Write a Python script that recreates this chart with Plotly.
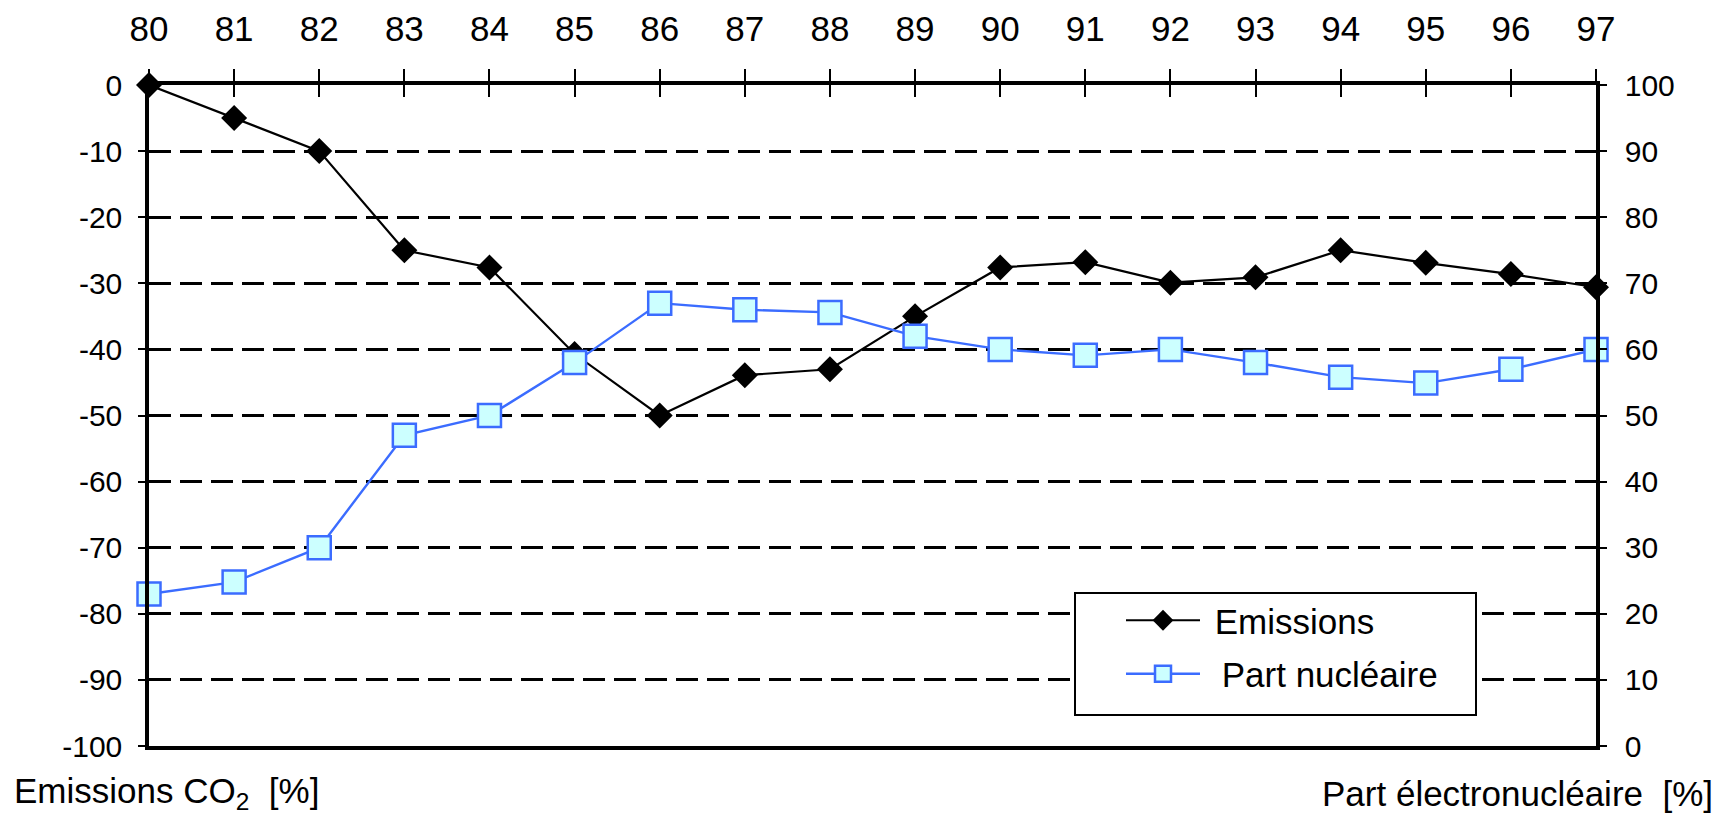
import plotly.graph_objects as go

# Years (19xx) on the top axis
years = [80, 81, 82, 83, 84, 85, 86, 87, 88, 89, 90, 91, 92, 93, 94, 95, 96, 97]

# CO2 emissions change relative to 1980, in % (left axis)
emissions = [0, -5, -10, -25, -27.6, -40.7, -50, -43.9, -43, -35, -27.6, -26.8,
             -29.9, -29.1, -25, -26.9, -28.6, -30.6]

# Share of nuclear power in electricity production, in % (right axis)
part_nucleaire = [23, 24.8, 30, 47, 50, 58, 67, 66, 65.6, 62, 60, 59.1,
                  60, 58, 55.8, 54.9, 57, 60]

left_ticks = list(range(-100, 1, 10))
left_text = [str(v) for v in left_ticks]          # plain hyphen for negatives
right_ticks = list(range(0, 101, 10))

FONT = "Liberation Sans, Arial, sans-serif"
W, H = 1719, 815
L, R, T, B = 149, 123, 85, 69
PW, PH = W - L - R, H - T - B


def px(x):
    return (x - L) / PW


def py(y):
    return (H - B - y) / PH


fig = go.Figure()

fig.add_trace(go.Scatter(
    x=years, y=emissions, name=" Emissions", mode="lines+markers",
    line=dict(color="black", width=2.2),
    marker=dict(symbol="diamond", size=20, color="black",
                line=dict(color="black", width=0)),
    cliponaxis=False, legendgroup="a", yaxis="y",
))

fig.add_trace(go.Scatter(
    x=years, y=part_nucleaire, name=" \u2009Part nucléaire", mode="lines+markers",
    line=dict(color="#3b6cff", width=2.4),
    marker=dict(symbol="square", size=23, color="#ccffff",
                line=dict(color="#3b6cff", width=2.5)),
    cliponaxis=False, legendgroup="b", yaxis="y2",
))

# empty trace that carries the inward tick marks of the top axis
fig.add_trace(go.Scatter(x=[], y=[], xaxis="x3", yaxis="y", showlegend=False,
                         hoverinfo="skip"))

fig.update_layout(
    width=W, height=H,
    margin=dict(l=L, r=R, t=T, b=B, autoexpand=False),
    paper_bgcolor="white", plot_bgcolor="white",
    font=dict(family=FONT, size=30, color="black"),
    showlegend=True,
    xaxis=dict(
        range=[80, 97], side="top", tickmode="array", tickvals=years,
        ticktext=[str(v) for v in years], automargin=False,
        showline=True, linecolor="black", linewidth=3.5, mirror=True,
        ticks="outside", ticklen=12, tickwidth=2, tickcolor="black",
        ticklabelstandoff=14,
        showgrid=False, zeroline=False,
        tickfont=dict(family=FONT, size=35),
    ),
    xaxis3=dict(
        range=[80, 97], side="top", overlaying="x", anchor="y",
        tickmode="array", tickvals=years, automargin=False,
        ticks="inside", ticklen=12, tickwidth=2, tickcolor="black",
        showticklabels=False, showline=False, showgrid=False, zeroline=False,
    ),
    yaxis=dict(
        range=[-100, 0], tickmode="array", tickvals=left_ticks,
        ticktext=left_text, automargin=False,
        showline=True, linecolor="black", linewidth=3.5,
        ticks="outside", ticklen=7, tickwidth=2, tickcolor="black",
        ticklabelstandoff=10,
        showgrid=True, gridcolor="black", gridwidth=2.6, griddash="22px,9px",
        zeroline=False,
        tickfont=dict(family=FONT, size=30),
    ),
    yaxis2=dict(
        range=[0, 100], overlaying="y", side="right", anchor="x",
        tickmode="array", tickvals=right_ticks, automargin=False,
        showline=True, linecolor="black", linewidth=3.5,
        ticks="outside", ticklen=7, tickwidth=2, tickcolor="black",
        ticklabelstandoff=12,
        showgrid=False, zeroline=False,
        tickfont=dict(family=FONT, size=30),
    ),
    legend=dict(
        x=px(1121), y=py(591),
        xanchor="left", yanchor="top",
        bgcolor="rgba(0,0,0,0)", borderwidth=0,
        font=dict(family=FONT, size=35),
        tracegroupgap=5, itemwidth=74,
    ),
    shapes=[
        # white frame behind the legend entries, masking the grid lines
        dict(type="rect", xref="paper", yref="paper", layer="above",
             x0=px(1075), x1=px(1476), y0=py(715), y1=py(593),
             fillcolor="white", line=dict(color="black", width=2)),
    ],
    annotations=[
        dict(text="Emissions CO<sub>2</sub>  [%]", xref="paper", yref="paper",
             x=px(12), y=py(793), xanchor="left", yanchor="middle",
             showarrow=False, font=dict(family=FONT, size=35)),
        dict(text="Part électronucléaire  [%]", xref="paper", yref="paper",
             x=px(1715), y=py(793), xanchor="right", yanchor="middle",
             showarrow=False, font=dict(family=FONT, size=35)),
    ],
)

fig.write_html("out.html")
